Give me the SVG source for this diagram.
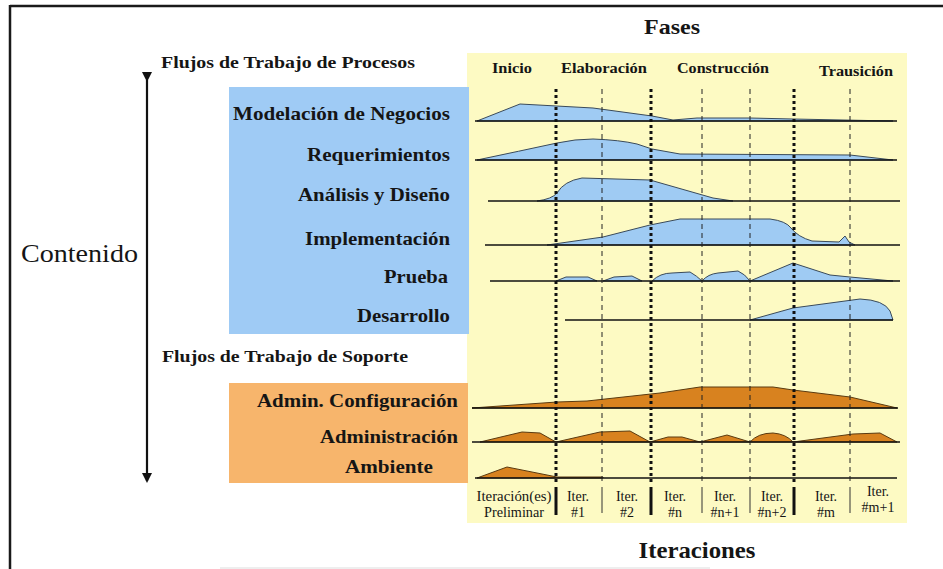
<svg xmlns="http://www.w3.org/2000/svg" width="943" height="569" viewBox="0 0 943 569">
<style>
text{font-family:"Liberation Serif","DejaVu Serif",serif;fill:#151515}
.b{font-weight:bold}
.lbl{font-size:19.5px;font-weight:bold;text-anchor:end}
.ph{font-size:15.5px;font-weight:bold}
.it{font-size:14px;text-anchor:middle}
.base{stroke:#111;stroke-width:1.3;fill:none}
.blue{fill:#9FCBF3;stroke:#3a4a5a;stroke-width:1;stroke-linejoin:round}
.orng{fill:#D8821F;stroke:#5a3a10;stroke-width:1;stroke-linejoin:round}
.thk{stroke:#111;stroke-width:3;stroke-dasharray:3 3}
.thn{stroke:#222;stroke-width:1;stroke-dasharray:5 4}
</style>
<defs>
<marker id="ah" markerWidth="10" markerHeight="10" refX="8" refY="5" orient="auto" markerUnits="userSpaceOnUse">
<path d="M0,0 L10,5 L0,10 Z" fill="#111"/>
</marker>
</defs>
<rect width="943" height="569" fill="#fff"/>
<g id="frame">
<line x1="10" y1="6" x2="943" y2="6" stroke="#1a1a1a" stroke-width="2.5"/>
<line x1="10" y1="5" x2="10" y2="569" stroke="#1a1a1a" stroke-width="2.5"/>
<line x1="220" y1="568" x2="710" y2="568" stroke="#ddd" stroke-width="1"/>
</g>
<g id="panels">
<rect x="467" y="53" width="440" height="470" fill="#FDFAC3"/>
<rect x="229" y="87" width="240" height="247" fill="#9FCBF5"/>
<rect x="229" y="383" width="239" height="100" fill="#F7B56C"/>
</g>
<g id="titles">
<text x="672" y="34" class="b" font-size="21" text-anchor="middle" textLength="56" lengthAdjust="spacingAndGlyphs">Fases</text>
<text x="697" y="558" class="b" font-size="23" text-anchor="middle" textLength="117" lengthAdjust="spacingAndGlyphs">Iteraciones</text>
<text x="21" y="262" font-size="26" textLength="117" lengthAdjust="spacingAndGlyphs">Contenido</text>
<text x="161" y="68" class="b" font-size="17" textLength="254" lengthAdjust="spacingAndGlyphs">Flujos de Trabajo de Procesos</text>
<text x="162" y="362" class="b" font-size="17" textLength="246" lengthAdjust="spacingAndGlyphs">Flujos de Trabajo de Soporte</text>
</g>
<g id="phases">
<text x="492" y="73" class="ph" textLength="40" lengthAdjust="spacingAndGlyphs">Inicio</text>
<text x="561" y="73" class="ph" textLength="86" lengthAdjust="spacingAndGlyphs">Elaboración</text>
<text x="677" y="73" class="ph" textLength="92" lengthAdjust="spacingAndGlyphs">Construcción</text>
<text x="819" y="76" class="ph" textLength="74" lengthAdjust="spacingAndGlyphs">Trausición</text>
</g>
<g id="modelacion">
<text x="450" y="120" class="lbl" textLength="217" lengthAdjust="spacingAndGlyphs">Modelación de Negocios</text>
<path class="blue" d="M477,121 L520,104 L593,108 L652,116 L673,120 L697,118 L750,118 L793,119 L893,121 Z"/>
<line class="base" x1="475" y1="121" x2="897" y2="121"/>
</g>
<g id="requerimientos">
<text x="450" y="161" class="lbl" textLength="143" lengthAdjust="spacingAndGlyphs">Requerimientos</text>
<path class="blue" d="M477,160 Q520,151 557,143 Q575,139 593,139 Q620,140 637,144 L652,149 L680,154 L850,155 L893,160 Z"/>
<line class="base" x1="475" y1="160" x2="897" y2="160"/>
</g>
<g id="analisis">
<text x="450" y="201" class="lbl" textLength="152" lengthAdjust="spacingAndGlyphs">Análisis y Diseño</text>
<path class="blue" d="M537,201 Q552,199 557,193 Q564,181 582,178 L650,180 L713,198 L733,201 Z"/>
<line class="base" x1="488" y1="201" x2="900" y2="201"/>
</g>
<g id="implementacion">
<text x="450" y="245" class="lbl" textLength="145" lengthAdjust="spacingAndGlyphs">Implementación</text>
<path class="blue" d="M547,245 L603,237 L650,225 L680,219 L770,219 Q786,221 791,228 Q798,237 812,241 L839,242 L845,236 L849,242 L855,245 Z"/>
<line class="base" x1="485" y1="245" x2="900" y2="245"/>
</g>
<g id="prueba">
<text x="448" y="283" class="lbl" textLength="64" lengthAdjust="spacingAndGlyphs">Prueba</text>
<path class="blue" d="M556,281 L566,277 L588,277 L597,281 Z M603,281 L614,277 L632,276 L642,281 Z M652,281 Q660,273 672,273 L690,272 Q697,276 702,281 Z M702,281 Q708,274 718,273 L738,271 Q745,274 750,281 Z M750,281 L793,263 L830,275 L850,277 L893,281 Z"/>
<line class="base" x1="490" y1="281" x2="900" y2="281"/>
</g>
<g id="desarrollo">
<text x="450" y="322" class="lbl" textLength="93" lengthAdjust="spacingAndGlyphs">Desarrollo</text>
<path class="blue" d="M750,320 L793,308 L860,299 Q884,300 890,311 L893,320 Z"/>
<line class="base" x1="565" y1="320" x2="893" y2="320"/>
</g>
<g id="adminconfig">
<text x="458" y="407" class="lbl" textLength="201" lengthAdjust="spacingAndGlyphs">Admin. Configuración</text>
<path class="orng" d="M472,408 L557,402 L587,401 L660,393 L700,387 L773,387 L793,390 L850,397 L897,408 Z"/>
<line class="base" x1="472" y1="408" x2="898" y2="408"/>
</g>
<g id="administracion">
<text x="458" y="443" class="lbl" textLength="138" lengthAdjust="spacingAndGlyphs">Administración</text>
<path class="orng" d="M480,442 L522,432 L540,433 L556,442 Z M556,442 L600,432 L630,431 L650,442 Z M650,442 L668,437 L682,437 L700,442 Z M700,442 L727,435 L750,442 Z M750,442 Q758,433 773,433 Q786,434 793,442 Z M793,442 L853,434 L880,433 L897,442 Z"/>
<line class="base" x1="472" y1="442" x2="900" y2="442"/>
</g>
<g id="ambiente">
<text x="433" y="473" class="lbl" textLength="88" lengthAdjust="spacingAndGlyphs">Ambiente</text>
<path class="orng" d="M477,478 L507,467 L557,477 L603,477 L603,478 Z"/>
<line class="base" x1="475" y1="478" x2="897" y2="478"/>
</g>
<g id="gridlines">
<line class="thk" x1="556" y1="89" x2="556" y2="485"/>
<line class="thk" x1="651" y1="89" x2="651" y2="485"/>
<line class="thk" x1="794" y1="89" x2="794" y2="485"/>
<line class="thn" x1="602" y1="89" x2="602" y2="485"/>
<line class="thn" x1="702" y1="89" x2="702" y2="485"/>
<line class="thn" x1="750" y1="89" x2="750" y2="485"/>
<line class="thn" x1="850" y1="89" x2="850" y2="485"/>
<line x1="556" y1="487" x2="556" y2="515" stroke="#111" stroke-width="3"/>
<line x1="651" y1="487" x2="651" y2="515" stroke="#111" stroke-width="3"/>
<line x1="794" y1="487" x2="794" y2="515" stroke="#111" stroke-width="3"/>
<line x1="602" y1="487" x2="602" y2="513" stroke="#333" stroke-width="1"/>
<line x1="702" y1="487" x2="702" y2="513" stroke="#333" stroke-width="1"/>
<line x1="750" y1="487" x2="750" y2="513" stroke="#333" stroke-width="1"/>
<line x1="850" y1="487" x2="850" y2="513" stroke="#333" stroke-width="1"/>
</g>
<g id="iterations">
<text x="514" y="501" class="it" textLength="75" lengthAdjust="spacingAndGlyphs">Iteración(es)</text>
<text x="514" y="517" class="it" textLength="60" lengthAdjust="spacingAndGlyphs">Preliminar</text>
<text x="578" y="501" class="it">Iter.</text><text x="578" y="517" class="it">#1</text>
<text x="627" y="501" class="it">Iter.</text><text x="627" y="517" class="it">#2</text>
<text x="675" y="501" class="it">Iter.</text><text x="675" y="517" class="it">#n</text>
<text x="725" y="501" class="it">Iter.</text><text x="725" y="517" class="it">#n+1</text>
<text x="772" y="501" class="it">Iter.</text><text x="772" y="517" class="it">#n+2</text>
<text x="826" y="501" class="it">Iter.</text><text x="826" y="517" class="it">#m</text>
<text x="878" y="496" class="it">Iter.</text><text x="878" y="512" class="it">#m+1</text>
</g>
<g id="connectors">
<line x1="147" y1="80" x2="147" y2="481" stroke="#111" stroke-width="2.2" marker-start="url(#ah)" marker-end="url(#ah)"/>
</g>
</svg>
